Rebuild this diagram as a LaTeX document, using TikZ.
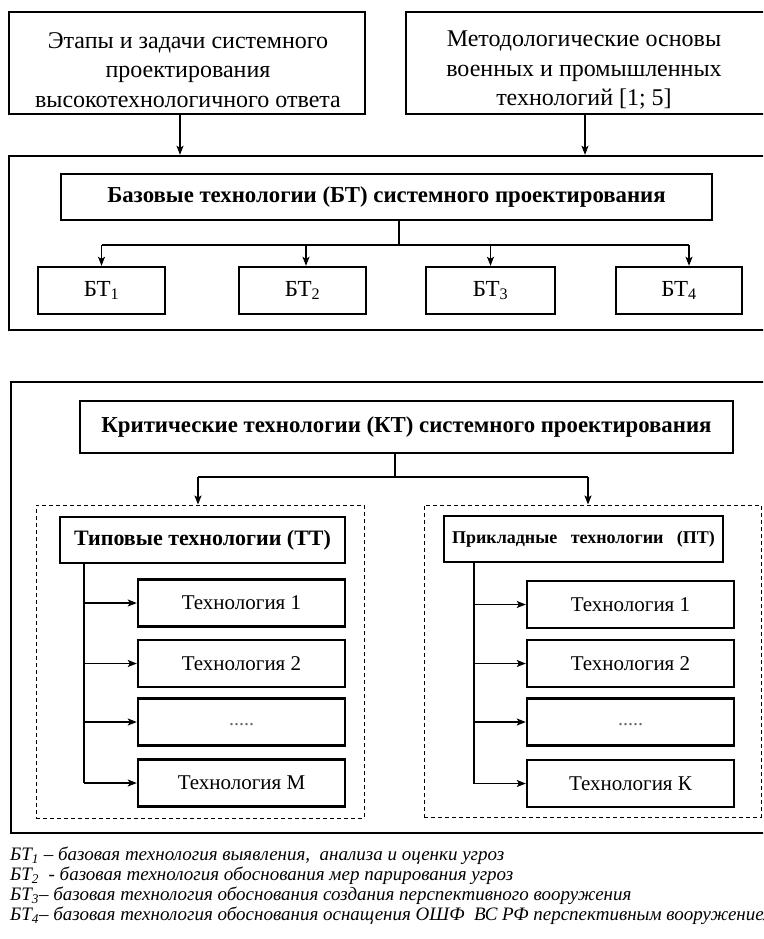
\documentclass[tikz,border=0pt]{standalone}
\usepackage{fontspec}
\setmainfont{Liberation Serif}
\usetikzlibrary{arrows.meta}
\begin{document}
\begin{tikzpicture}[x=1pt,y=-1pt,
  bx/.style={draw, line width=2.4pt, inner sep=0pt, align=center},
  frame/.style={draw, line width=2.4pt, inner sep=0pt},
  dbox/.style={draw, line width=1pt, dash pattern=on 4pt off 3pt, inner sep=0pt},
  ln/.style={line width=1.3pt},
  arr/.style={line width=1.3pt, -{Stealth[length=9pt,width=7pt,inset=2pt]}},
  big/.style={font=\fontsize{24}{29.5}\selectfont},
  boldt/.style={font=\bfseries\fontsize{22.8}{26}\selectfont},
  boldtt/.style={font=\bfseries\fontsize{22}{26}\selectfont},
  bsmall/.style={font=\bfseries\fontsize{18}{22}\selectfont},
  tech/.style={bx, minimum width=207pt, minimum height=47pt, font=\fontsize{21}{24}\selectfont},
  btbox/.style={bx, minimum width=127pt, minimum height=47pt, font=\fontsize{23}{26}\selectfont},
  foot/.style={anchor=west, inner sep=0pt, font=\itshape\fontsize{19}{22}\selectfont}
]
\useasboundingbox (0,0) rectangle (763,939);
\clip (0,0) rectangle (763,939);

% top sources
\node[bx, minimum width=356pt, minimum height=102pt] (src1) at (187,63) {};
\node[big, align=center, inner sep=0pt] (t1) at (188,70)
  {Этапы и задачи системного\\проектирования\\высокотехнологичного ответа};
\node[bx, minimum width=359pt, minimum height=102pt] (src2) at (585.5,63) {};
\node[big, align=center, inner sep=0pt] (t2) at (584,70)
  {Методологические основы\\военных и промышленных\\технологий [1; 5]};

% BT block
\node[frame, minimum width=757pt, minimum height=174pt] (bt) at (387.5,243) {};
\coordinate (c1) at (180,0);
\coordinate (c2) at (585,0);
\draw[arr] (src1.south -| c1) -- (bt.north -| c1);
\draw[arr] (src2.south -| c2) -- (bt.north -| c2);

\node[bx, minimum width=651pt, minimum height=46pt, boldt] (btt) at (386.5,197)
  {Базовые технологии (БТ) системного проектирования};
\node[btbox] (bt1) at (101.5,290.5) {БТ\textsubscript{1}};
\node[btbox] (bt2) at (302.5,290.5) {БТ\textsubscript{2}};
\node[btbox, minimum width=129pt] (bt3) at (490.5,290.5) {БТ\textsubscript{3}};
\node[btbox, minimum width=126pt] (bt4) at (679,290.5) {БТ\textsubscript{4}};
\coordinate (bus1) at (399,245);
\draw[ln] (btt.south -| bus1) -- (bus1);
\draw[ln] (bt1.north |- bus1) -- ([xshift=10pt]bt4.north |- bus1);
\draw[arr] (bt1.north |- bus1) -- (bt1.north);
\draw[arr] ([xshift=3.5pt]bt2.north |- bus1) -- ([xshift=3.5pt]bt2.north);
\draw[arr] (bt3.north |- bus1) -- (bt3.north);
\draw[arr] ([xshift=10pt]bt4.north |- bus1) -- ([xshift=10pt]bt4.north);

% KT block
\node[frame, minimum width=755pt, minimum height=451pt] (kt) at (388.5,607.5) {};
\node[bx, minimum width=653pt, minimum height=52pt, boldt] (ktt) at (406.5,427)
  {Критические технологии (КТ) системного проектирования};
\coordinate (bus2) at (395,477);
\coordinate (bl) at (198,477);
\coordinate (br) at (588,477);
\draw[ln] (ktt.south -| bus2) -- (bus2);
\node[dbox, minimum width=328pt, minimum height=313pt] (dl) at (200,661.5) {};
\node[dbox, minimum width=337pt, minimum height=312pt] (dr) at (592.5,661) {};
\draw[ln] (bl) -- (br);
\draw[arr] (bl) -- (dl.north -| bl);
\draw[arr] (br) -- (dr.north -| br);

\node[bx, minimum width=285pt, minimum height=46pt, boldtt] (tt) at (202.5,540)
  {Типовые технологии (ТТ)};
\node[bx, minimum width=279pt, minimum height=46pt, bsmall] (pt) at (583.5,539)
  {Прикладные\ \ \ технологии\ \ \ (ПТ)};

\node[tech] (l1) at (241.5,603) {Технология 1};
\node[tech] (l2) at (241.5,663.5) {Технология 2};
\node[tech] (l3) at (241.5,722) {\raisebox{-8pt}{\color{black!60}\fontsize{20}{24}\selectfont .....}};
\node[tech] (l4) at (241.5,783) {Технология М};
\node[tech] (r1) at (630.5,604.5) {Технология 1};
\node[tech] (r2) at (630.5,663.5) {Технология 2};
\node[tech] (r3) at (630.5,722) {\raisebox{-8pt}{\color{black!60}\fontsize{20}{24}\selectfont .....}};
\node[tech] (r4) at (630.5,783.5) {Технология К};

\coordinate (vl) at (84,0);
\coordinate (vr) at (474,0);
\draw[ln] (tt.south -| vl) -- (l4.west -| vl);
\draw[ln] (pt.south -| vr) -- (r4.west -| vr);
\foreach \n in {l1,l2,l3,l4} \draw[arr] (\n.west -| vl) -- (\n.west);
\foreach \n in {r1,r2,r3,r4} \draw[arr] (\n.west -| vr) -- (\n.west);

% footer
\node[foot] (f1) at (10,856) {БТ\textsubscript{1} – базовая технология выявления,\ \ анализа и оценки угроз};
\node[foot] (f2) at (10,876) {БТ\textsubscript{2} \ - базовая технология обоснования мер парирования угроз};
\node[foot] (f3) at (10,896) {БТ\textsubscript{3}– базовая технология обоснования создания перспективного вооружения};
\node[foot] (f4) at (10,916) {БТ\textsubscript{4}– базовая технология обоснования оснащения ОШФ\ \ ВС РФ перспективным вооружением};
\end{tikzpicture}
\end{document}
